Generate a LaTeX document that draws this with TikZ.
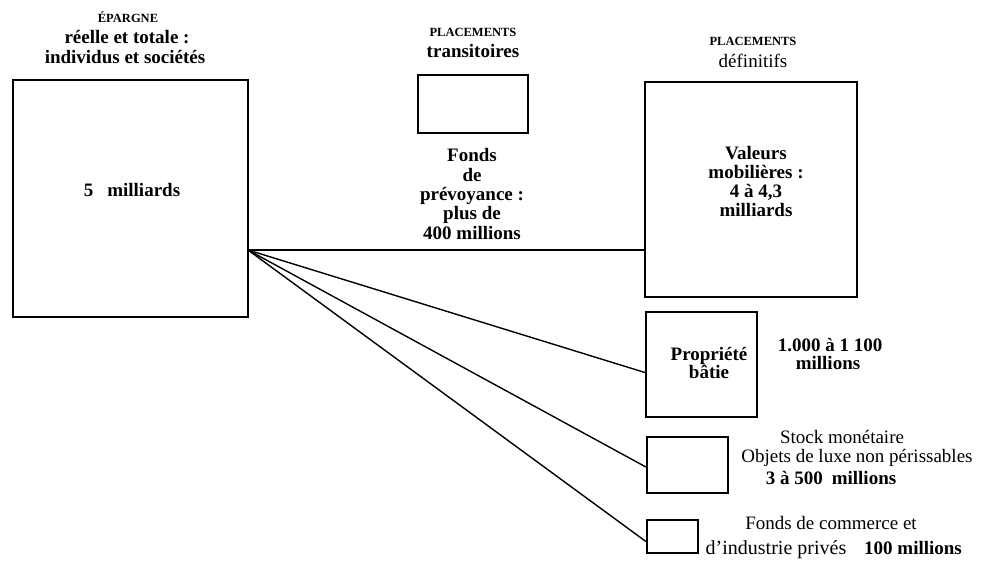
\documentclass[tikz,border=0pt]{standalone}
\usepackage{fontspec}
\setmainfont{Liberation Serif}
\begin{document}
\begin{tikzpicture}[x=1pt,y=-1pt,
  box/.style={draw=black,line width=2.2pt,inner sep=0pt},
  link/.style={draw=black,line width=1.4pt},
  txt/.style={inner sep=0pt,align=center,font=\fontsize{19}{18}\selectfont\bfseries},
  lite/.style={inner sep=0pt,align=center,font=\fontsize{19}{18}\selectfont},
  head/.style={inner sep=0pt,align=center,font=\fontsize{12.5}{12}\selectfont\bfseries}]
\useasboundingbox (0,0) rectangle (982,562);
% boxes
\node[box,minimum width=235pt,minimum height=237pt] (ep) at (130.5,198.5) {};
\node[box,minimum width=110pt,minimum height=58pt] (tr) at (473,104) {};
\node[box,minimum width=212pt,minimum height=215pt] (val) at (751,189.5) {};
\node[box,minimum width=111pt,minimum height=105pt] (prop) at (701.5,364.5) {};
\node[box,minimum width=81pt,minimum height=56pt] (stock) at (687.5,465) {};
\node[box,minimum width=51pt,minimum height=33pt] (fc) at (672.5,536.5) {};
% headers
\node[head] (h1) at (128,17) {ÉPARGNE};
\node[txt] (h1b) at (127,37) {réelle et totale :};
\node[txt] (h1c) at (125,57) {individus et sociétés};
\node[head] (h2) at (473,32) {PLACEMENTS};
\node[txt] (h2b) at (473,51) {transitoires};
\node[head] (h3) at (753,41) {PLACEMENTS};
\node[lite] (h3b) at (753,61) {définitifs};
% inner texts
\node[txt] (t1) at (132,190) {5\hspace{14pt}milliards};
\node[txt,font=\fontsize{19}{19.3}\selectfont\bfseries] (t2) at (472,194) {Fonds\\de\\prévoyance :\\plus de\\400 millions};
\node[txt,font=\fontsize{19}{19}\selectfont\bfseries] (t3) at (756,181) {Valeurs\\mobilières :\\4 à 4,3\\milliards};
\node[txt,font=\fontsize{19}{17}\selectfont\bfseries] (t4) at (709,363) {Propriété\\bâtie};
\node[txt] (t5a) at (830,345) {1.000 à 1 100};
\node[txt] (t5b) at (828,363) {millions};
\node[lite] (t6a) at (842,437) {Stock monétaire};
\node[lite] (t6b) at (857,458) {Objets de luxe non périssables};
\node[txt] (t6c) at (831,478) {3 à 500\hspace{9pt}millions};
\node[lite] (t7a) at (831,523) {Fonds de commerce et};
\node[lite,font=\fontsize{20}{18}\selectfont,anchor=base] (t7b) at (776,554) {d'industrie privés};
\node[txt,anchor=base] (t7c) at (913,554) {100 millions};
% connectors
\coordinate (o) at (248,250);
\draw[link] (o) -- (o -| val.west);
\draw[link] (o) -- ([yshift=-8pt]prop.west);
\draw[link] (o) -- ([yshift=-2pt]stock.west);
\draw[link] (o) -- ([yshift=-5pt]fc.west);
\end{tikzpicture}
\end{document}
